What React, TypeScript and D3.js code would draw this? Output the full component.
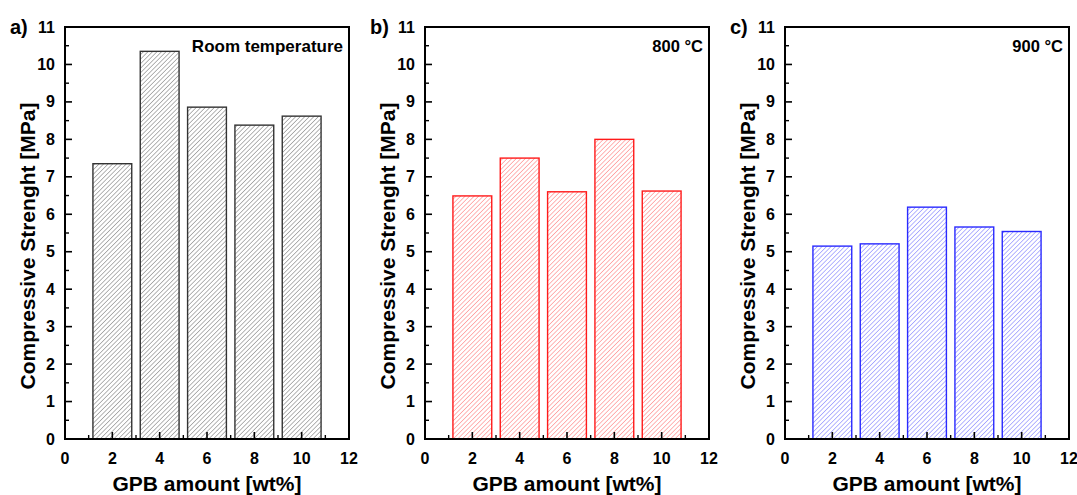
import React from "react";
import * as d3 from "d3";

const amounts = [2, 4, 6, 8, 10];
const roomTemp = [7.35, 10.35, 8.86, 8.38, 8.62];
const temp800 = [6.49, 7.5, 6.6, 8.0, 6.62];
const temp900 = [5.15, 5.21, 6.19, 5.66, 5.54];
const yTicks = [0, 1, 2, 3, 4, 5, 6, 7, 8, 9, 10, 11];
const xTicks = [0, 2, 4, 6, 8, 10, 12];

const panels = [
  { id: "a", label: "a)", note: "Room temperature", values: roomTemp, stroke: "#333333", hatch: "#5a5a5a" },
  { id: "b", label: "b)", note: "800 °C", values: temp800, stroke: "#ff1a1a", hatch: "#ff5a5a" },
  { id: "c", label: "c)", note: "900 °C", values: temp900, stroke: "#2a2aff", hatch: "#5a5aff" },
];

const FONT = "Arial, 'Liberation Sans', sans-serif";
const W = 1077, H = 495;
const plotW = 284, top = 27, bottom = 439;
const offsets = [65, 425, 785];

function Panel({ p, x0 }: { p: typeof panels[number]; x0: number }) {
  const x = d3.scaleLinear().domain([0, 12]).range([x0, x0 + plotW]);
  const y = d3.scaleLinear().domain([0, 11]).range([bottom, top]);
  const barW = x(1.64) - x(0);
  const minorY = d3.range(0.5, 11, 1);
  const minorX = d3.range(1, 12, 2);
  const mid = (top + bottom) / 2;
  return (
    <g>
      {amounts.map((a, i) => (
        <rect key={i} x={x(a) - barW / 2} y={y(p.values[i])} width={barW} height={y(0) - y(p.values[i])}
          fill={`url(#hatch-${p.id})`} stroke={p.stroke} strokeWidth={1.4} />
      ))}
      <rect x={x0} y={top} width={plotW} height={bottom - top} fill="none" stroke="#000" strokeWidth={2} />
      {yTicks.map((t) => (
        <g key={"y" + t}>
          <line x1={x0} x2={x0 + 7} y1={y(t)} y2={y(t)} stroke="#000" strokeWidth={1.6} />
          <text x={x0 - 10} y={y(t) + 5.5} textAnchor="end" fontSize={16} fontWeight="bold" fontFamily={FONT}>{t}</text>
        </g>
      ))}
      {minorY.map((t) => (
        <line key={"my" + t} x1={x0} x2={x0 + 4} y1={y(t)} y2={y(t)} stroke="#000" strokeWidth={1.4} />
      ))}
      {xTicks.map((t) => (
        <g key={"x" + t}>
          <line x1={x(t)} x2={x(t)} y1={bottom} y2={bottom - 7} stroke="#000" strokeWidth={1.6} />
          <text x={x(t)} y={bottom + 25} textAnchor="middle" fontSize={16} fontWeight="bold" fontFamily={FONT}>{t}</text>
        </g>
      ))}
      {minorX.map((t) => (
        <line key={"mx" + t} x1={x(t)} x2={x(t)} y1={bottom} y2={bottom - 4} stroke="#000" strokeWidth={1.4} />
      ))}
      <text x={x0 - 37} y={mid + 13} transform={`rotate(-90 ${x0 - 37} ${mid + 13})`} textAnchor="middle" dy="0.35em"
        fontSize={21} fontWeight="bold" fontFamily={FONT}>Compressive Strenght [MPa]</text>
      <text x={(x0 + x0 + plotW) / 2} y={491} textAnchor="middle" fontSize={21} fontWeight="bold" fontFamily={FONT}>GPB amount [wt%]</text>
      <text x={x0 - 55} y={34} fontSize={20} fontWeight="bold" fontFamily={FONT}>{p.label}</text>
      <text x={x0 + plotW - 6} y={52} textAnchor="end" fontSize={p.id === "a" ? 17 : 16.5} fontWeight="bold" fontFamily={FONT}>{p.note}</text>
    </g>
  );
}

export default function App() {
  return (
    <svg width={W} height={H} style={{ display: "block", position: "absolute", left: 0, top: 0, background: "#fff" }}>
      <defs>
        {panels.map((p) => (
          <pattern key={p.id} id={`hatch-${p.id}`} patternUnits="userSpaceOnUse" width={3.2} height={3.2} patternTransform="rotate(45)">
            <line x1={0} y1={0} x2={0} y2={3.2} stroke={p.hatch} strokeWidth={0.9} />
          </pattern>
        ))}
      </defs>
      <rect width={W} height={H} fill="#fff" />
      {panels.map((p, i) => (
        <Panel key={p.id} p={p} x0={offsets[i]} />
      ))}
    </svg>
  );
}
